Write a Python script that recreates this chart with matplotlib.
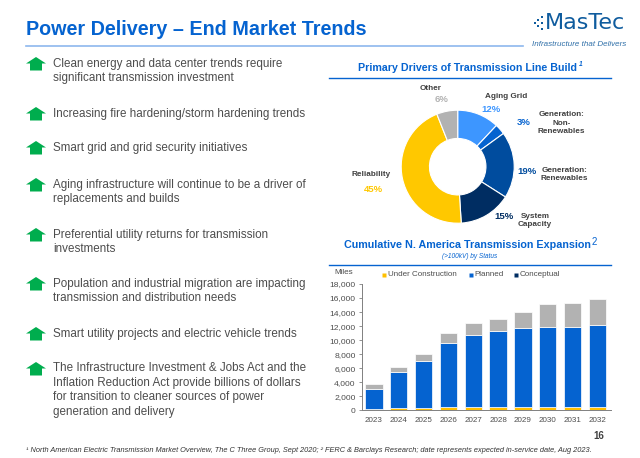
import matplotlib
matplotlib.use("Agg")
import matplotlib.pyplot as plt
from matplotlib.patches import Polygon, Rectangle

plt.rcParams['font.family'] = ['Liberation Sans', 'DejaVu Sans']
W, H = 640, 458

BLUE = '#0563D0'
TXT = '#4D4D4D'

title = 'Power Delivery – End Market Trends'
bullets = [
    'Clean energy and data center trends require\nsignificant transmission investment',
    'Increasing fire hardening/storm hardening trends',
    'Smart grid and grid security initiatives',
    'Aging infrastructure will continue to be a driver of\nreplacements and builds',
    'Preferential utility returns for transmission\ninvestments',
    'Population and industrial migration are impacting\ntransmission and distribution needs',
    'Smart utility projects and electric vehicle trends',
    'The Infrastructure Investment & Jobs Act and the\nInflation Reduction Act provide billions of dollars\nfor transition to cleaner sources of power\ngeneration and delivery',
]
bullet_y = [71, 114, 148, 192, 242, 291, 334, 390]

pie_labels = ['Aging Grid', 'Generation:\nNon-\nRenewables', 'Generation:\nRenewables',
              'System\nCapacity', 'Reliability', 'Other']
pie_values = [12, 3, 19, 15, 45, 6]
pie_colors = ['#3D96FF', '#0563D0', '#004C9E', '#002D62', '#FFC800', '#B2B2B2']

years = ['2023', '2024', '2025', '2026', '2027', '2028', '2029', '2030', '2031', '2032']
under_construction = [200, 350, 350, 450, 450, 450, 450, 450, 450, 450]
planned = [2900, 5050, 6700, 9150, 10300, 10850, 11250, 11450, 11450, 11650]
conceptual = [650, 800, 950, 1400, 1650, 1700, 2300, 3300, 3400, 3700]
y_ticks = [0, 2000, 4000, 6000, 8000, 10000, 12000, 14000, 16000, 18000]

fig = plt.figure(figsize=(W / 100, H / 100), dpi=100, facecolor='white')
ov = fig.add_axes([0, 0, 1, 1])
ov.set_xlim(0, W)
ov.set_ylim(H, 0)
ov.axis('off')


def rect(x0, y0, x1, y1):
    return [x0 / W, 1 - y1 / H, (x1 - x0) / W, (y1 - y0) / H]


# header
ov.text(25.5, 29.5, title, fontsize=14.2, fontweight='bold', color=BLUE, va='center', ha='left')
ov.plot([26, 523], [46, 46], color='#8DB8EE', lw=1.2)

# logo
for dx, dy in [(534.5, 23), (538, 19.5), (538, 26), (541.5, 23), (541.5, 16.5), (541.5, 29)]:
    ov.add_patch(Rectangle((dx - 1, dy - 1), 2, 2, fc='#0F5C9E', ec='none'))
ov.text(545, 23, 'MasTec', fontsize=16, color='#0F5C9E', va='center', ha='left',
        family='DejaVu Sans')
ov.text(532, 44.5, 'Infrastructure that Delivers', fontsize=5.8, style='italic',
        color='#2F6FA8', va='center', ha='left')

# bullets
for text, y in zip(bullets, bullet_y):
    ov.text(53, y, text, fontsize=8.4, color=TXT, va='center', ha='left', linespacing=1.27)

n_lines = [t.count('\n') + 1 for t in bullets]
for y, n in zip(bullet_y, n_lines):
    top = y - n * 7
    cx = 36
    ov.add_patch(Polygon([(cx, top), (cx + 10, top + 6.5), (cx + 6, top + 6.5), (cx + 6, top + 13.5),
                          (cx - 6, top + 13.5), (cx - 6, top + 6.5), (cx - 10, top + 6.5)],
                         closed=True, fc='#00AD4E', ec='none'))

# section titles
ov.text(467, 68, 'Primary Drivers of Transmission Line Build', fontsize=7.7, fontweight='bold',
        color=BLUE, va='center', ha='center')
ov.text(581, 65, '1', fontsize=4.8, fontweight='bold', style='italic', color=BLUE, va='center', ha='center')
ov.plot([329, 611], [77.5, 77.5], color=BLUE, lw=1.0)

ov.text(467, 245, 'Cumulative N. America Transmission Expansion', fontsize=7.75, fontweight='bold',
        color=BLUE, va='center', ha='center')
ov.text(594, 242, '2', fontsize=7, color=BLUE, va='center', ha='center')
ov.text(470, 257, '(>100kV) by Status', fontsize=4.7, style='italic', color=BLUE, va='center', ha='center')
ov.plot([329, 611], [264.5, 264.5], color=BLUE, lw=1.0)

# donut
R = 56.5
cx, cy = 457.7, 166.7
pa = fig.add_axes(rect(cx - R, cy - R, cx + R, cy + R))
pa.pie(pie_values, colors=pie_colors, startangle=90, counterclock=False, radius=1,
       wedgeprops=dict(width=0.5, edgecolor='white', linewidth=0.8))
pa.set_xlim(-1, 1)
pa.set_ylim(-1, 1)
pa.set_aspect('equal')

LBL = '#404040'
label_pos = [(506, 96.7), (561.7, 123.3), (564.3, 174.3), (535, 220.3), (370.7, 174.3), (431, 88.5)]
pct_pos = [(491, 110), (524, 122.7), (526.7, 172), (504.3, 216.7), (373.3, 189.3), (441.7, 99)]
pct_colors = ['#3D96FF', '#0563D0', '#004C9E', '#002D62', '#FFC800', '#B2B2B2']
for lab, p in zip(pie_labels, label_pos):
    ov.text(p[0], p[1], lab, fontsize=5.9, fontweight='bold', color=LBL, ha='center', va='center',
            linespacing=1.3)
for v, p, c in zip(pie_values, pct_pos, pct_colors):
    ov.text(p[0], p[1], f'{v}%', fontsize=6.8, fontweight='bold', color=c, ha='center', va='center')

# bars
ax = fig.add_axes(rect(362, 284, 611, 410.3))
x = range(len(years))
bar_kw = dict(width=0.7, edgecolor='white', linewidth=0.5)
ax.bar(x, under_construction, color='#FFC000', **bar_kw)
ax.bar(x, planned, bottom=under_construction, color='#0563D0', **bar_kw)
base = [a + b for a, b in zip(under_construction, planned)]
ax.bar(x, conceptual, bottom=base, color='#B2B2B2', **bar_kw)
ax.set_ylim(0, 18000)
ax.set_xlim(-0.48, 9.55)
ax.set_xticks(list(x))
ax.set_xticklabels(years)
ax.set_yticks(y_ticks)
ax.set_yticklabels([f'{v:,}' for v in y_ticks])
ax.tick_params(axis='x', length=0, labelsize=5.8, colors=TXT, pad=5)
ax.tick_params(axis='y', length=2.5, width=0.6, labelsize=6.1, colors=TXT, color='#808080', pad=2)
for s in ('top', 'right'):
    ax.spines[s].set_visible(False)
for s in ('left', 'bottom'):
    ax.spines[s].set_color('#808080')
    ax.spines[s].set_linewidth(0.7)
ax.patch.set_alpha(0)

ov.text(343.5, 272.5, 'Miles', fontsize=5.9, color=TXT, ha='center', va='center')
legend_items = [('Under Construction', '#FFC000', 384, 388),
                ('Planned', '#0563D0', 470.7, 474.7),
                ('Conceptual', '#002D62', 516, 520)]
for lab, col, mx, tx in legend_items:
    ov.plot([mx], [275], marker='s', ms=2.6, color=col, mec='none')
    ov.text(tx, 275, lab, fontsize=5.8, color=TXT, ha='left', va='center')

# footer
ov.text(599, 436, '16', fontsize=7, fontweight='bold', color='#404040', ha='center', va='center')
ov.text(26, 451,
        '¹ North American Electric Transmission Market Overview, The C Three Group, Sept 2020; '
        '² FERC & Barclays Research; date represents expected in-service date, Aug 2023.',
        fontsize=5.35, style='italic', color='#333333', ha='left', va='center')

fig.savefig('out.png', dpi=100)
